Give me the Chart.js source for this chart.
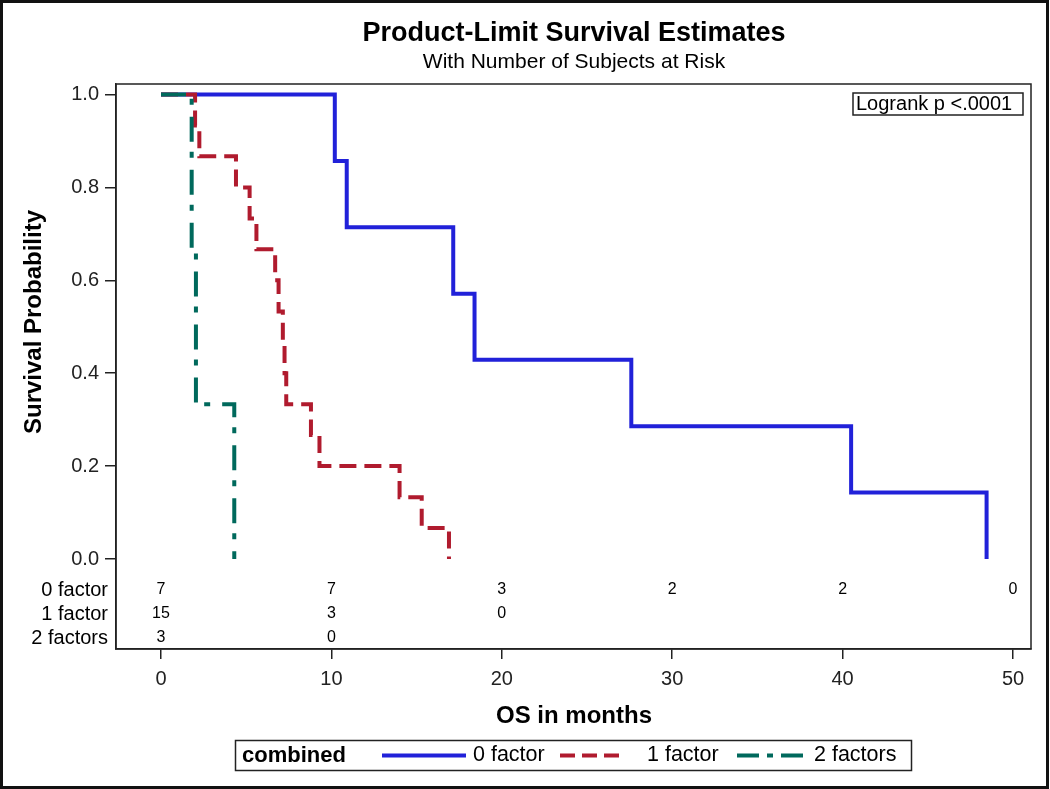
<!DOCTYPE html>
<html>
<head>
<meta charset="utf-8">
<script src="https://cdn.jsdelivr.net/npm/chart.js@4.4.1/dist/chart.umd.min.js"></script>
<style>
  html, body { margin: 0; padding: 0; background: #fff; }
  canvas { display: block; }
</style>
</head>
<body>
<canvas id="c" width="1050" height="789"></canvas>
<script>
// ---------- data ----------
const groupNames = ["0 factor", "1 factor", "2 factors"];

const time0 = [0, 10.2, 10.9, 17.15, 18.4, 27.6, 40.5, 48.45];
const surv0 = [1, 0.857, 0.714, 0.571, 0.429, 0.286, 0.143, 0];

const time1 = [0, 2.0, 2.25, 4.4, 5.2, 5.6, 6.7, 6.9, 7.15, 7.25, 7.35, 8.8, 9.3, 14.0, 15.3, 16.9];
const surv1 = [1, 0.933, 0.867, 0.8, 0.733, 0.667, 0.6, 0.533, 0.467, 0.4, 0.333, 0.267, 0.2, 0.133, 0.067, 0];

const time2 = [0, 1.8, 2.05, 4.3];
const surv2 = [1, 0.667, 0.333, 0];

const xTicks = [0, 10, 20, 30, 40, 50];
const yTicks = [0, 0.2, 0.4, 0.6, 0.8, 1.0];

const atRisk0 = [7, 7, 3, 2, 2, 0];
const atRisk1 = [15, 3, 0, null, null, null];
const atRisk2 = [3, 0, null, null, null, null];

const titleText = "Product-Limit Survival Estimates";
const subtitleText = "With Number of Subjects at Risk";
const xTitle = "OS in months";
const yTitle = "Survival Probability";
const legendTitle = "combined";
const logrankText = "Logrank p <.0001";

// ---------- styles ----------
const FONT = "'Liberation Sans', Arial, Helvetica, sans-serif";
const colors = ["#2121D9", "#B01B2E", "#00695C"];
const dashes = [[], [17, 8], [25, 10, 6, 12]];

const toPts = (t, s) => t.map((v, i) => ({ x: v, y: s[i] }));
const series = [toPts(time0, surv0), toPts(time1, surv1), toPts(time2, surv2)];
const atRisk = [atRisk0, atRisk1, atRisk2];

const datasets = series.map((d, i) => ({
  label: groupNames[i],
  data: d,
  borderColor: colors[i],
  borderWidth: 4,
  borderDash: dashes[i],
  borderCapStyle: 'butt',
  borderJoinStyle: 'miter',
  stepped: 'before',
  pointRadius: 0,
  fill: false,
  order: 3 - i
}));

// geometry of plot frame
const AREA = { left: 116, top: 84, right: 1031, bottom: 649 };
const X0PX = 161, X50PX = 1013, Y1PX = 94.5, Y0PX = 559;
const xppu = (X50PX - X0PX) / 50;
const yppu = (Y0PX - Y1PX) / 1;
const xMin = -(X0PX - AREA.left) / xppu;
const xMax = 50 + (AREA.right - X50PX) / xppu;
const yMax = 1 + (Y1PX - AREA.top) / yppu;
const yMin = -(AREA.bottom - Y0PX) / yppu;

const decor = {
  id: 'decor',
  beforeDraw(chart) {
    const ctx = chart.ctx;
    ctx.save();
    ctx.fillStyle = '#fff';
    ctx.fillRect(0, 0, chart.width, chart.height);
    ctx.restore();
  },
  afterDraw(chart) {
    const ctx = chart.ctx;
    const ca = chart.chartArea;
    const xs = chart.scales.x;
    ctx.save();
    // plot frame
    ctx.strokeStyle = '#222';
    ctx.lineWidth = 1.5;
    ctx.strokeRect(ca.left, ca.top, ca.right - ca.left, ca.bottom - ca.top);

    // titles
    ctx.fillStyle = '#000';
    ctx.textAlign = 'center';
    ctx.textBaseline = 'middle';
    ctx.font = "bold 27px " + FONT;
    ctx.fillText(titleText, 574, 34);
    ctx.font = "21px " + FONT;
    ctx.fillText(subtitleText, 574, 62);

    // axis titles
    ctx.font = "bold 24px " + FONT;
    ctx.fillText(xTitle, 574, 716);
    ctx.save();
    ctx.translate(34, 322);
    ctx.rotate(-Math.PI / 2);
    ctx.fillText(yTitle, 0, 0);
    ctx.restore();

    // at-risk table
    const rowY = [590, 614, 638];
    ctx.font = "20px " + FONT;
    ctx.textAlign = 'right';
    groupNames.forEach((g, r) => ctx.fillText(g, 108, rowY[r]));
    ctx.font = "16px " + FONT;
    ctx.textAlign = 'center';
    atRisk.forEach((row, r) => {
      row.forEach((n, k) => {
        if (n === null) return;
        ctx.fillText(String(n), xs.getPixelForValue(xTicks[k]), rowY[r]);
      });
    });

    // logrank box
    ctx.lineWidth = 1.5;
    ctx.strokeStyle = '#222';
    ctx.strokeRect(853, 93, 170, 22);
    ctx.font = "20px " + FONT;
    ctx.textAlign = 'left';
    ctx.fillText(logrankText, 856, 104.5);

    // legend
    ctx.strokeRect(235.5, 740.5, 676, 30);
    const ly = 755.5;
    ctx.font = "bold 22px " + FONT;
    ctx.fillText(legendTitle, 242, ly);
    ctx.font = "21.5px " + FONT;
    const items = [
      { x1: 382, x2: 466, tx: 473 },
      { x1: 560, x2: 619, tx: 647 },
      { x1: 737, x2: 803, tx: 814 }
    ];
    items.forEach((it, i) => {
      ctx.save();
      ctx.strokeStyle = colors[i];
      ctx.lineWidth = 4;
      ctx.lineCap = 'butt';
      ctx.setLineDash(i === 1 ? [15, 7] : i === 2 ? [22, 8, 6, 8] : []);
      ctx.beginPath();
      ctx.moveTo(it.x1, ly);
      ctx.lineTo(it.x2, ly);
      ctx.stroke();
      ctx.restore();
      ctx.fillStyle = '#000';
      ctx.fillText(groupNames[i], it.tx, ly);
    });

    // outer border
    ctx.lineWidth = 3;
    ctx.strokeStyle = '#111';
    ctx.strokeRect(1.5, 1.5, 1046, 786);
    ctx.restore();
  }
};

new Chart(document.getElementById('c'), {
  type: 'line',
  data: { datasets },
  options: {
    responsive: false,
    animation: false,
    devicePixelRatio: 1,
    layout: { padding: { top: AREA.top, right: 1050 - AREA.right, left: 0, bottom: 0 } },
    events: [],
    scales: {
      x: {
        type: 'linear',
        min: xMin,
        max: xMax,
        afterFit(s) { s.height = 789 - AREA.bottom; },
        afterBuildTicks(s) { s.ticks = xTicks.map(v => ({ value: v })); },
        grid: { display: true, drawOnChartArea: false, drawTicks: true, tickLength: 10, color: '#222', lineWidth: 1.5 },
        border: { display: true, color: '#222', width: 1.5 },
        ticks: { padding: 8, color: '#222', font: { family: FONT, size: 20 }, maxRotation: 0, autoSkip: false, callback: v => String(v) }
      },
      y: {
        type: 'linear',
        min: yMin,
        max: yMax,
        afterFit(s) { s.width = AREA.left; },
        afterBuildTicks(s) { s.ticks = yTicks.map(v => ({ value: v })); },
        grid: { display: true, drawOnChartArea: false, drawTicks: true, tickLength: 11, color: '#222', lineWidth: 1.5 },
        border: { display: true, color: '#222', width: 1.5 },
        ticks: { padding: 6, color: '#222', font: { family: FONT, size: 20 }, autoSkip: false, callback: v => Number(v).toFixed(1) }
      }
    },
    plugins: {
      legend: { display: false },
      tooltip: { enabled: false },
      title: { display: false }
    }
  },
  plugins: [decor]
});
</script>
</body>
</html>
